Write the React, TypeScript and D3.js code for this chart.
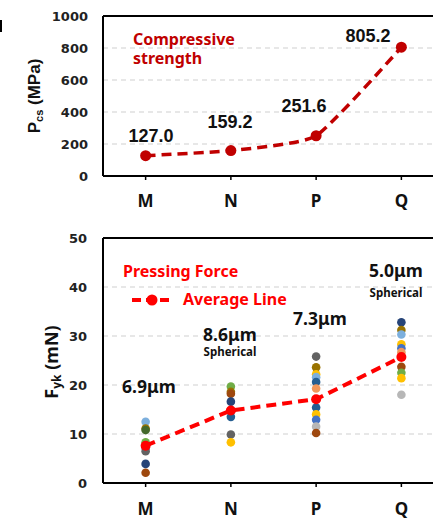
import React from "react";
import * as d3 from "d3";

const categories = ["M", "N", "P", "Q"];

// top panel
const strength = [127.0, 159.2, 251.6, 805.2];
const strengthLabels = ["127.0", "159.2", "251.6", "805.2"];
const strengthTicks = [0, 200, 400, 600, 800, 1000];

// bottom panel
const forceAverage = [7.6, 14.8, 17.1, 25.7];
const forceTicks = [0, 10, 20, 30, 40, 50];
const sizeLabels = ["6.9μm", "8.6μm", "7.3μm", "5.0μm"];
const shapeLabels = ["", "Spherical", "", "Spherical"];

const forceM = [12.5, 11.1, 10.8, 8.3, 7.2, 6.5, 3.9, 2.1];
const colorsM = ["#7CAFDD", "#997300", "#43682B", "#70AD47", "#4472C4", "#636363", "#264478", "#9E480E"];
const forceN = [19.7, 18.6, 18.2, 16.6, 14.7, 13.5, 9.9, 8.3];
const colorsN = ["#70AD47", "#997300", "#9E480E", "#264478", "#4472C4", "#255E91", "#636363", "#FFC000"];
const forceP = [25.8, 23.6, 22.2, 21.6, 20.6, 19.3, 17.1, 15.4, 14.0, 12.9, 11.5, 10.2];
const colorsP = ["#636363", "#997300", "#FFC000", "#7CAFDD", "#255E91", "#F1975A", "#43682B", "#255E91", "#FFC000", "#4472C4", "#B7B7B7", "#9E480E"];
const forceQ = [32.8, 31.2, 30.3, 28.3, 27.5, 26.7, 23.7, 22.5, 21.4, 18.0];
const colorsQ = ["#264478", "#997300", "#7CAFDD", "#FFC000", "#4472C4", "#F1975A", "#9E480E", "#70AD47", "#FFC000", "#B7B7B7"];

const forceGroups = [forceM, forceN, forceP, forceQ];
const colorGroups = [colorsM, colorsN, colorsP, colorsQ];

const W = 433;
const H = 520;
const left = 103;
const right = 444;
const arial = "'Liberation Sans', Arial, sans-serif";
const dejavu = "'DejaVu Sans', sans-serif";
const noto = "'Noto Sans', sans-serif";

export default function App() {
  const x = d3.scalePoint<string>().domain(categories).range([left, right]).padding(0.5);

  const yTop = d3.scaleLinear().domain([0, 1000]).range([176, 16]);
  const yBot = d3.scaleLinear().domain([0, 50]).range([483, 238]);

  const topLine = d3
    .line<number>()
    .x((d, i) => x(categories[i])!)
    .y((d) => yTop(d))
    .curve(d3.curveCardinal.tension(0.5));

  const botLine = d3
    .line<number>()
    .x((d, i) => x(categories[i])!)
    .y((d) => yBot(d));

  const dark = "#C00000";
  const red = "#FF0000";

  return (
    <svg width={W} height={H} style={{ position: "absolute", left: 0, top: 0, background: "#fff" }}>
      <rect x={0} y={20} width={2} height={12} fill="#000" />

      {/* ---------- top panel ---------- */}
      {strengthTicks.slice(1, -1).map((t) => (
        <line key={t} x1={left} x2={W} y1={yTop(t)} y2={yTop(t)} stroke="#cfcfcf" strokeWidth={1} strokeDasharray="5,4" />
      ))}
      <line x1={left} x2={W} y1={yTop(1000)} y2={yTop(1000)} stroke="#000" strokeWidth={2} />
      <line x1={left} x2={left} y1={yTop(1000)} y2={yTop(0)} stroke="#000" strokeWidth={2} />
      <line x1={left} x2={W} y1={yTop(0)} y2={yTop(0)} stroke="#000" strokeWidth={2} />
      {categories.map((c) => (
        <line key={c} x1={x(c)} x2={x(c)} y1={yTop(0)} y2={yTop(0) + 4} stroke="#000" strokeWidth={1.5} />
      ))}
      {strengthTicks.map((t) => (
        <text key={t} x={88} y={yTop(t) + 5} textAnchor="end" fontFamily={dejavu} fontWeight="bold" fontSize={13} fill="#222">
          {t}
        </text>
      ))}
      {categories.map((c) => (
        <text key={c} x={x(c)} y={207} textAnchor="middle" fontFamily={noto} fontWeight="bold" fontSize={17} fill="#111">
          {c}
        </text>
      ))}
      <text transform={`translate(40,96) rotate(-90)`} textAnchor="middle" fontFamily={arial} fontWeight="bold" fontSize={17} fill="#111">
        P<tspan fontSize={11} dy={3}>cs</tspan>
        <tspan dy={-3}> (MPa)</tspan>
      </text>
      <path d={topLine(strength)!} fill="none" stroke={dark} strokeWidth={3.5} strokeDasharray="10,6" />
      {strength.map((v, i) => (
        <circle key={i} cx={x(categories[i])} cy={yTop(v)} r={5.5} fill={dark} />
      ))}
      {[
        [151, 142],
        [230, 128],
        [304, 112],
        [368, 42],
      ].map(([lx, ly], i) => (
        <text key={i} x={lx} y={ly} textAnchor="middle" fontFamily={arial} fontWeight="bold" fontSize={18} fill="#111">
          {strengthLabels[i]}
        </text>
      ))}
      <text x={133} y={45} fontFamily={noto} fontWeight="bold" fontSize={16} fill={dark}>
        Compressive
      </text>
      <text x={133} y={64} fontFamily={noto} fontWeight="bold" fontSize={16} fill={dark}>
        strength
      </text>

      {/* ---------- bottom panel ---------- */}
      {forceTicks.slice(1, -1).map((t) => (
        <line key={t} x1={left} x2={W} y1={yBot(t)} y2={yBot(t)} stroke="#cfcfcf" strokeWidth={1} strokeDasharray="5,4" />
      ))}
      <line x1={left} x2={W} y1={yBot(50)} y2={yBot(50)} stroke="#000" strokeWidth={2} />
      <line x1={left} x2={left} y1={yBot(50)} y2={yBot(0)} stroke="#000" strokeWidth={2} />
      <line x1={left} x2={W} y1={yBot(0)} y2={yBot(0)} stroke="#000" strokeWidth={2} />
      {categories.map((c) => (
        <line key={c} x1={x(c)} x2={x(c)} y1={yBot(0)} y2={yBot(0) + 4} stroke="#000" strokeWidth={1.5} />
      ))}
      {forceTicks.map((t) => (
        <text key={t} x={87} y={yBot(t) + 5} textAnchor="end" fontFamily={dejavu} fontWeight="bold" fontSize={13} fill="#222">
          {t}
        </text>
      ))}
      {categories.map((c) => (
        <text key={c} x={x(c)} y={515} textAnchor="middle" fontFamily={noto} fontWeight="bold" fontSize={17} fill="#111">
          {c}
        </text>
      ))}
      <text transform={`translate(58,362) rotate(-90)`} textAnchor="middle" fontFamily={noto} fontWeight="bold" fontSize={18} fill="#111">
        F<tspan fontSize={12} dy={3}>yk</tspan>
        <tspan dy={-3}> (mN)</tspan>
      </text>

      {forceGroups.map((g, gi) =>
        g.map((v, i) => (
          <circle key={gi + "-" + i} cx={x(categories[gi])} cy={yBot(v)} r={4.3} fill={colorGroups[gi][i]} />
        ))
      )}
      <path d={botLine(forceAverage)!} fill="none" stroke={red} strokeWidth={4} strokeDasharray="10,6" />
      {forceAverage.map((v, i) => (
        <circle key={i} cx={x(categories[i])} cy={yBot(v)} r={5} fill={red} />
      ))}

      <text x={123} y={277} fontFamily={noto} fontWeight="bold" fontSize={16} fill={red}>
        Pressing Force
      </text>
      <line x1={132} x2={171} y1={300} y2={300} stroke={red} strokeWidth={4} strokeDasharray="9,5" />
      <circle cx={152} cy={300} r={5.5} fill={red} />
      <text x={183} y={305} fontFamily={noto} fontWeight="bold" fontSize={16} fill={red}>
        Average Line
      </text>

      {[
        [149, 393, 0],
        [230, 341, 356],
        [320, 325, 0],
        [396, 277, 297],
      ].map(([lx, ly, sy], i) => (
        <g key={i}>
          <text x={lx} y={ly} textAnchor="middle" fontFamily={noto} fontWeight="bold" fontSize={17.5} fill="#111">
            {sizeLabels[i]}
          </text>
          {shapeLabels[i] && (
            <text x={lx} y={sy} textAnchor="middle" fontFamily={noto} fontWeight="bold" fontSize={11.5} fill="#111">
              {shapeLabels[i]}
            </text>
          )}
        </g>
      ))}
    </svg>
  );
}
